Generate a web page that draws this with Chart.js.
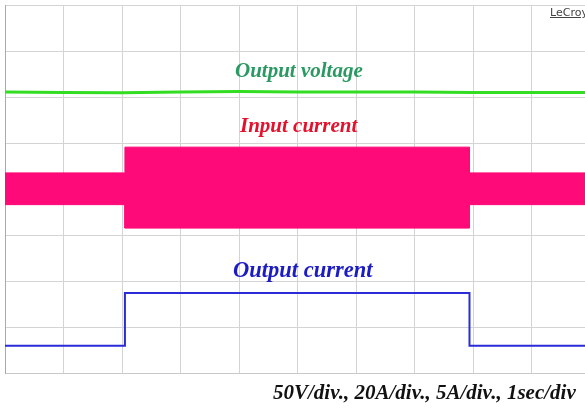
<!DOCTYPE html>
<html>
<head>
<meta charset="utf-8">
<script src="https://cdn.jsdelivr.net/npm/chart.js@4"></script>
<style>
  html, body { margin: 0; padding: 0; background: #fff; overflow: hidden; width: 585px; height: 412px; }
  #wrap { position: absolute; left: 0; top: 0; width: 600px; height: 412px; }
  .lbl { position: absolute; font-family: "Liberation Serif", "DejaVu Serif", serif; font-weight: bold; font-style: italic; white-space: nowrap; line-height: 24px; }
  #lecroy { position: absolute; left: 550px; top: 6px; font-family: "DejaVu Sans", sans-serif; font-size: 11px; color: #444; text-decoration: underline; }
</style>
</head>
<body>
<div id="wrap"><canvas id="chart" width="600" height="412"></canvas></div>
<div id="lecroy">LeCroy</div>
<div class="lbl" style="left:235px; top:58px; font-size:21px; color:#2a9a62;">Output voltage</div>
<div class="lbl" style="left:240px; top:113px; font-size:21px; color:#e4102c;">Input current</div>
<div class="lbl" style="left:233px; top:258px; font-size:22.5px; color:#1c1cc4;">Output current</div>
<div class="lbl" style="left:273px; top:380px; font-size:21px; color:#111;">50V/div., 20A/div., 5A/div., 1sec/div</div>
<script>
"use strict";

// x in divisions (1 sec/div), y in screen divisions from the bottom (8 div tall)
const voltTime = [0, 1, 2, 3, 4, 5, 6, 7, 8, 9, 10];
const outputVoltage = [6.11, 6.10, 6.09, 6.11, 6.12, 6.11, 6.11, 6.11, 6.10, 6.10, 6.10];

const stepTime = [0, 2.05, 2.05, 7.94, 7.94, 10];
const inputUpper = [4.35, 4.35, 4.91, 4.91, 4.35, 4.35];
const inputLower = [3.66, 3.66, 3.15, 3.15, 3.66, 3.66];
const outputCurrent = [0.59, 0.59, 1.74, 1.74, 0.59, 0.59];

const pts = (xs, ys) => xs.map((x, i) => ({ x, y: ys[i] }));
const PINK = "#ff0a78";

new Chart(document.getElementById("chart"), {
  type: "line",
  data: {
    datasets: [
      {
        label: "Output voltage",
        data: pts(voltTime, outputVoltage),
        borderColor: "#33dd22",
        borderWidth: 3,
        pointRadius: 0,
        tension: 0,
        fill: false,
      },
      {
        label: "Input current (max)",
        data: pts(stepTime, inputUpper),
        borderColor: PINK,
        backgroundColor: PINK,
        borderWidth: 1,
        pointRadius: 0,
        fill: "+1",
      },
      {
        label: "Input current (min)",
        data: pts(stepTime, inputLower),
        borderColor: PINK,
        borderWidth: 1,
        pointRadius: 0,
        fill: false,
      },
      {
        label: "Output current",
        data: pts(stepTime, outputCurrent),
        borderColor: "#2b2bd8",
        borderWidth: 2,
        pointRadius: 0,
        fill: false,
      },
    ],
  },
  options: {
    responsive: false,
    animation: false,
    layout: { padding: { left: 5, right: 10, top: 5, bottom: 39 } },
    plugins: { legend: { display: false }, tooltip: { enabled: false } },
    scales: {
      x: {
        type: "linear", min: 0, max: 10,
        ticks: { display: false, stepSize: 1 },
        grid: { color: "#d4d4d4", lineWidth: 1, drawTicks: false },
        border: { display: true, color: "#c8c8c8" },
      },
      y: {
        type: "linear", min: 0, max: 8,
        ticks: { display: false, stepSize: 1 },
        grid: { color: "#d4d4d4", lineWidth: 1, drawTicks: false },
        border: { display: true, color: "#aaa" },
      },
    },
  },
});
</script>
</body>
</html>
